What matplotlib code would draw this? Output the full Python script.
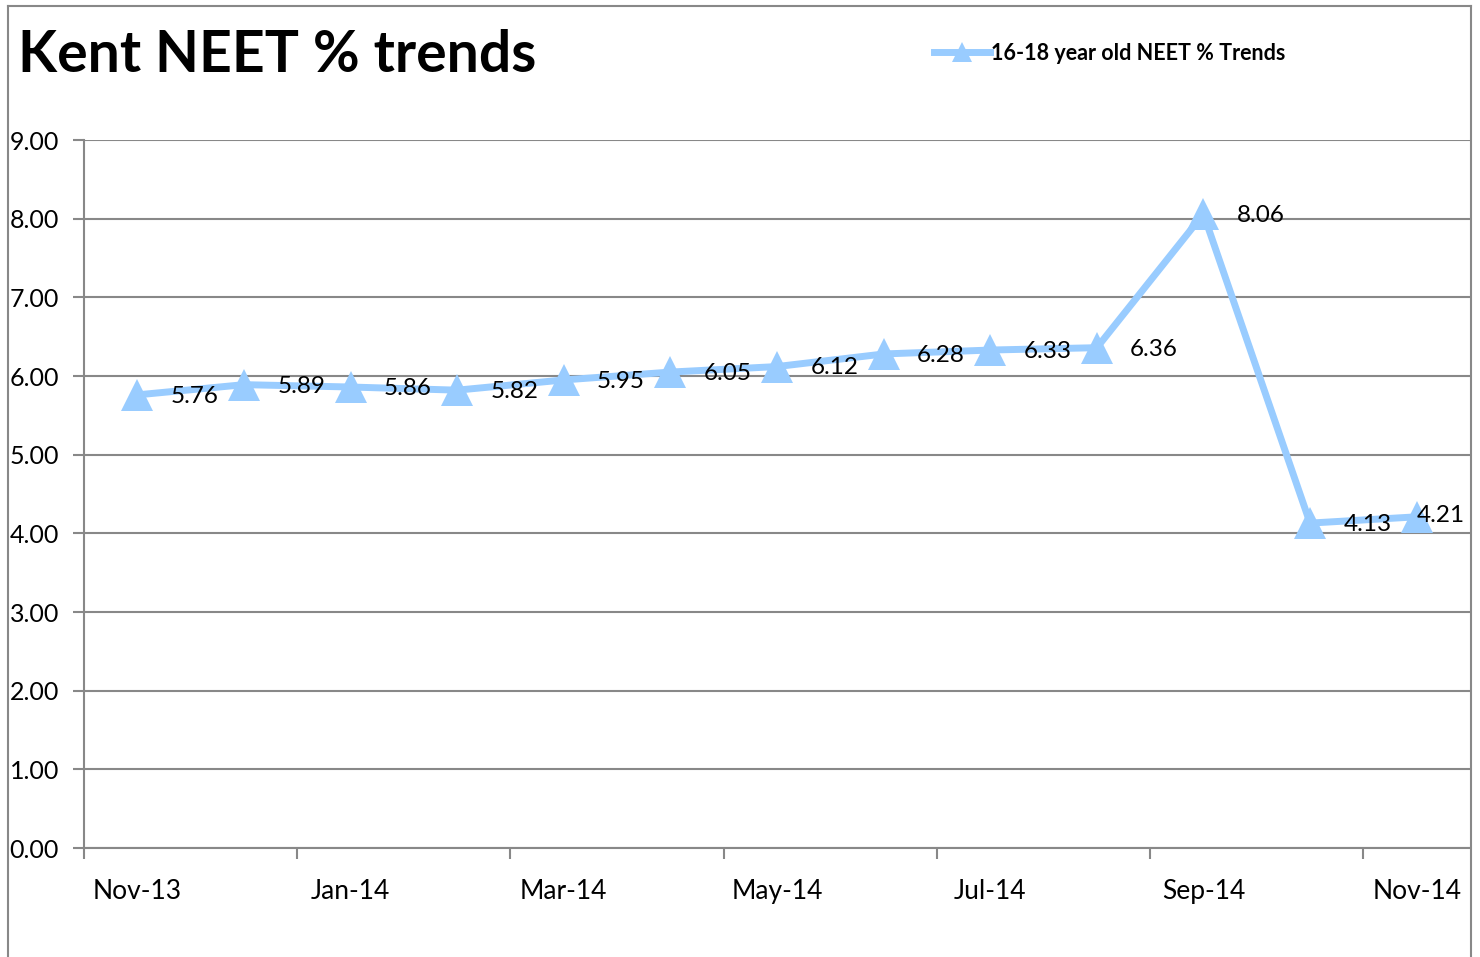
import matplotlib
matplotlib.use('Agg')
from matplotlib import pyplot as plt
from matplotlib.lines import Line2D

plt.rcParams['font.family'] = ['Lato', 'DejaVu Sans']

months = ['Nov-13', 'Dec-13', 'Jan-14', 'Feb-14', 'Mar-14', 'Apr-14', 'May-14',
          'Jun-14', 'Jul-14', 'Aug-14', 'Sep-14', 'Oct-14', 'Nov-14']
neet = [5.76, 5.89, 5.86, 5.82, 5.95, 6.05, 6.12, 6.28, 6.33, 6.36, 8.06, 4.13, 4.21]
yticks = [0, 1, 2, 3, 4, 5, 6, 7, 8, 9]

blue = '#99CCFF'
grey = '#888888'

fig = plt.figure(figsize=(14.8, 9.57), dpi=100)
ax = fig.add_axes([84 / 1480, 1 - 848 / 957, (1470 - 84) / 1480, (848 - 140) / 957])

x = list(range(len(months)))
ax.plot(x, neet, color=blue, linewidth=5, marker='^', markersize=23,
        markeredgewidth=0, label='16-18 year old NEET % Trends', zorder=3)

for i, v in enumerate(neet):
    if i == len(neet) - 1:
        ax.annotate('%.2f' % v, (i, v), xytext=(0, 1), textcoords='offset points',
                    ha='left', va='center', fontsize=17.5, zorder=4)
    else:
        ax.annotate('%.2f' % v, (i, v), xytext=(24, -1), textcoords='offset points',
                    ha='left', va='center', fontsize=17.5, zorder=4)

ax.set_xlim(-0.5, len(months) - 0.5)
ax.set_ylim(0, 9)
ax.set_yticks(yticks)
ax.set_yticklabels(['%.2f' % t for t in yticks], fontsize=18)
ax.yaxis.grid(True, color=grey, linewidth=1.5)
ax.set_axisbelow(True)

# ticks between categories, labels under every other month
ax.set_xticks([i - 0.5 for i in range(0, len(months), 2)])
ax.set_xticklabels([])
ax.set_xticks(x[::2], minor=True)
ax.set_xticklabels(months[::2], minor=True, fontsize=19)
ax.tick_params(axis='x', which='major', length=8, width=1.5, color=grey, direction='out')
ax.tick_params(axis='x', which='minor', length=0, pad=22)
ax.tick_params(axis='y', length=8, width=1.5, color=grey, pad=10)

for s in ['top', 'right']:
    ax.spines[s].set_visible(False)
for s in ['left', 'bottom']:
    ax.spines[s].set_color(grey)
    ax.spines[s].set_linewidth(1.5)

fig.text(18 / 1480, 1 - 55 / 957, 'Kent NEET % trends', fontsize=41, fontweight='bold',
         va='center', ha='left')

handle = Line2D([], [], color=blue, linewidth=5, marker='^', markersize=14, markeredgewidth=0)
fig.legend([handle], ['16-18 year old NEET % Trends'], loc='center left',
           bbox_to_anchor=(915 / 1480, 1 - 53 / 957), frameon=False,
           prop={'weight': 'bold', 'size': 15.5}, handlelength=2.6, handletextpad=0.05)

# chart border
fig.add_artist(Line2D([8 / 1480, 8 / 1480], [0, 1 - 6 / 957], color=grey, linewidth=1.5,
                      transform=fig.transFigure))
fig.add_artist(Line2D([8 / 1480, 1471 / 1480], [1 - 6 / 957, 1 - 6 / 957], color=grey,
                      linewidth=1.5, transform=fig.transFigure))
fig.add_artist(Line2D([1471 / 1480, 1471 / 1480], [0, 1 - 6 / 957], color=grey, linewidth=1.5,
                      transform=fig.transFigure))

fig.savefig('out.png', dpi=100)
